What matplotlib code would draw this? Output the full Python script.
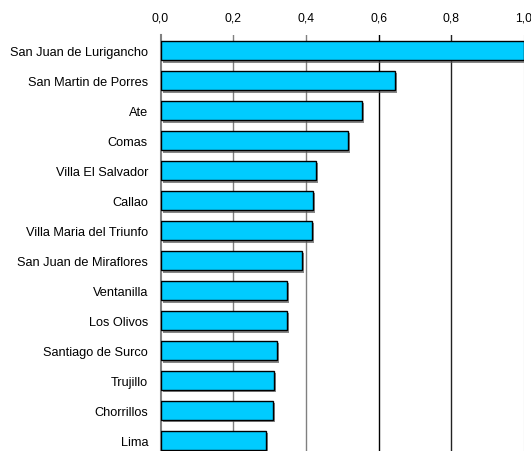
import matplotlib
matplotlib.use("Agg")
import matplotlib.pyplot as plt
import matplotlib.patheffects as pe
from matplotlib.ticker import FuncFormatter

categories = ["San Juan de Lurigancho", "San Martin de Porres", "Ate", "Comas",
              "Villa El Salvador", "Callao", "Villa Maria del Triunfo",
              "San Juan de Miraflores", "Ventanilla", "Los Olivos",
              "Santiago de Surco", "Trujillo", "Chorrillos", "Lima"]
values = [1.0, 0.644, 0.553, 0.515, 0.428, 0.420, 0.416, 0.388, 0.349, 0.349,
          0.321, 0.313, 0.309, 0.289]
xticks = [0.0, 0.2, 0.4, 0.6, 0.8, 1.0]

plt.rcParams['font.family'] = ['Liberation Sans', 'DejaVu Sans']

fig = plt.figure(figsize=(5.31, 4.52), dpi=100)
ax = fig.add_axes([160.5 / 531, 0, 363.5 / 531, 416 / 452])

pos = list(range(len(categories)))
bars = ax.barh(pos, values, height=0.66, color='#00CCFF', edgecolor='black',
               linewidth=1.0, zorder=3)
for b in bars:
    b.set_path_effects([pe.SimplePatchShadow(offset=(1.5, -1.5), shadow_rgbFace='#555555', alpha=0.7),
                        pe.Normal()])

ax.set_xlim(0, 1.0)
ax.set_ylim(len(categories) - 1 + 0.35, -0.52)
ax.set_yticks(pos)
ax.set_yticklabels(categories, fontsize=9.2)
ax.set_xticks(xticks)
ax.xaxis.set_major_formatter(FuncFormatter(lambda v, p: f"{v:.1f}".replace('.', ',')))
ax.xaxis.tick_top()
ax.tick_params(axis='x', length=0, pad=8, labelsize=8.7)
ax.tick_params(axis='y', length=0, pad=9)

gcolors = ['#808080', '#808080', '#808080', '#000000', '#222222', '#e8e8e8']
for xv, c in zip(xticks[1:], gcolors[1:]):
    ax.axvline(xv, color=c, linewidth=1.0, zorder=1)

for s in ['top', 'right', 'bottom']:
    ax.spines[s].set_visible(False)
ax.spines['left'].set_color('#808080')
ax.spines['left'].set_linewidth(1.5)

fig.savefig("out.png", dpi=100)
